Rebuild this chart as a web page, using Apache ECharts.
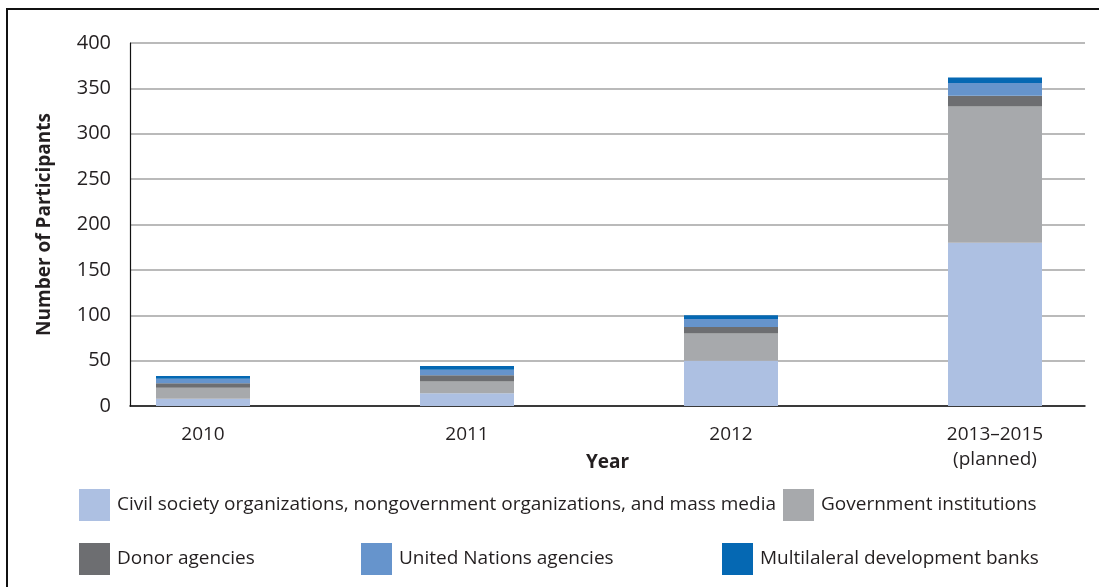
<!DOCTYPE html>
<html>
<head>
<meta charset="utf-8">
<script src="https://cdn.jsdelivr.net/npm/echarts@6/dist/echarts.min.js"></script>
<style>html,body{margin:0;padding:0;background:#fff}#c{width:1099px;height:587px}</style>
</head>
<body>
<div id="c"></div>
<script>
const categories = ['2010', '2011', '2012', '2013\u20132015\n(planned)'];
const seriesNames = [
  'Civil society organizations, nongovernment organizations, and mass media',
  'Government institutions',
  'Donor agencies',
  'United Nations agencies',
  'Multilaleral development banks'
];
const civilSociety = [8, 14, 50, 180];
const government = [12, 13, 30, 150];
const donors = [5, 7, 7, 12];
const unAgencies = [5, 6, 9, 14];
const mdbs = [3, 4, 4, 6];
const yTicks = [0, 50, 100, 150, 200, 250, 300, 350, 400];

const colors = ['#adc0e2', '#a7a9ac', '#6d6e71', '#6694cc', '#0568b3'];
const values = [civilSociety, government, donors, unAgencies, mdbs];
const FONT = 'Open Sans';
const TXT = '#231f20';

const chart = echarts.init(document.getElementById('c'));

const legendPos = [
  {left: 79, top: 489},
  {left: 783, top: 489},
  {left: 79, top: 543},
  {left: 361, top: 543},
  {left: 722, top: 543}
];

const option = {
  animation: false,
  backgroundColor: '#fff',
  textStyle: {fontFamily: FONT},
  grid: [
    {left: 71, right: -28, top: 43, bottom: 181, outerBoundsMode: 'none', containLabel: false},
    {left: 130, right: 14, top: 43, bottom: 181, outerBoundsMode: 'none', containLabel: false}
  ],
  xAxis: [
    {
      gridIndex: 0, type: 'category', data: categories, boundaryGap: true,
      axisLine: {show: false}, axisTick: {show: false},
      axisLabel: {color: TXT, fontSize: 19, fontFamily: FONT, margin: 16, lineHeight: 25, interval: 0}
    },
    {
      gridIndex: 1, type: 'value', min: 0, max: 1,
      axisLine: {show: true, onZero: false, lineStyle: {color: '#111', width: 1.5}},
      axisTick: {show: false}, axisLabel: {show: false}, splitLine: {show: false},
      name: 'Year', nameLocation: 'middle', nameGap: 47,
      nameTextStyle: {color: TXT, fontSize: 19, fontWeight: 'bold', fontFamily: FONT}
    }
  ],
  yAxis: [
    {gridIndex: 0, type: 'value', min: 0, max: 400, interval: 50, show: false},
    {
      gridIndex: 1, type: 'value', min: 0, max: 400, interval: 50,
      axisLine: {show: true, lineStyle: {color: '#111', width: 1.2}},
      axisTick: {show: false},
      axisLabel: {color: TXT, fontSize: 20, fontFamily: FONT, margin: 19,
        formatter: v => yTicks.includes(v) ? String(v) : ''},
      splitLine: {show: true, lineStyle: {color: '#a3a3a3', width: 1.5}},
      name: 'Number of Participants', nameLocation: 'middle', nameGap: 76, nameRotate: 90,
      nameTextStyle: {color: TXT, fontSize: 19, fontWeight: 'bold', fontFamily: FONT}
    }
  ],
  legend: seriesNames.map((n, i) => ({
    data: [n], left: legendPos[i].left, top: legendPos[i].top, orient: 'horizontal',
    icon: 'rect', itemWidth: 31, itemHeight: 32, padding: 0, selectedMode: false,
    textStyle: {color: TXT, fontSize: 19, fontFamily: FONT, padding: [0, 0, 0, 2]}
  })),
  graphic: [{
    type: 'rect', shape: {x: 7, y: 9, width: 1200, height: 700},
    style: {fill: 'none', stroke: '#111', lineWidth: 2}, silent: true, z: 100
  }],
  series: seriesNames.map((n, i) => ({
    name: n, type: 'bar', stack: 'total', xAxisIndex: 0, yAxisIndex: 0,
    barWidth: 94, data: values[i], itemStyle: {color: colors[i]}
  }))
};
chart.setOption(option);
</script>
</body>
</html>
